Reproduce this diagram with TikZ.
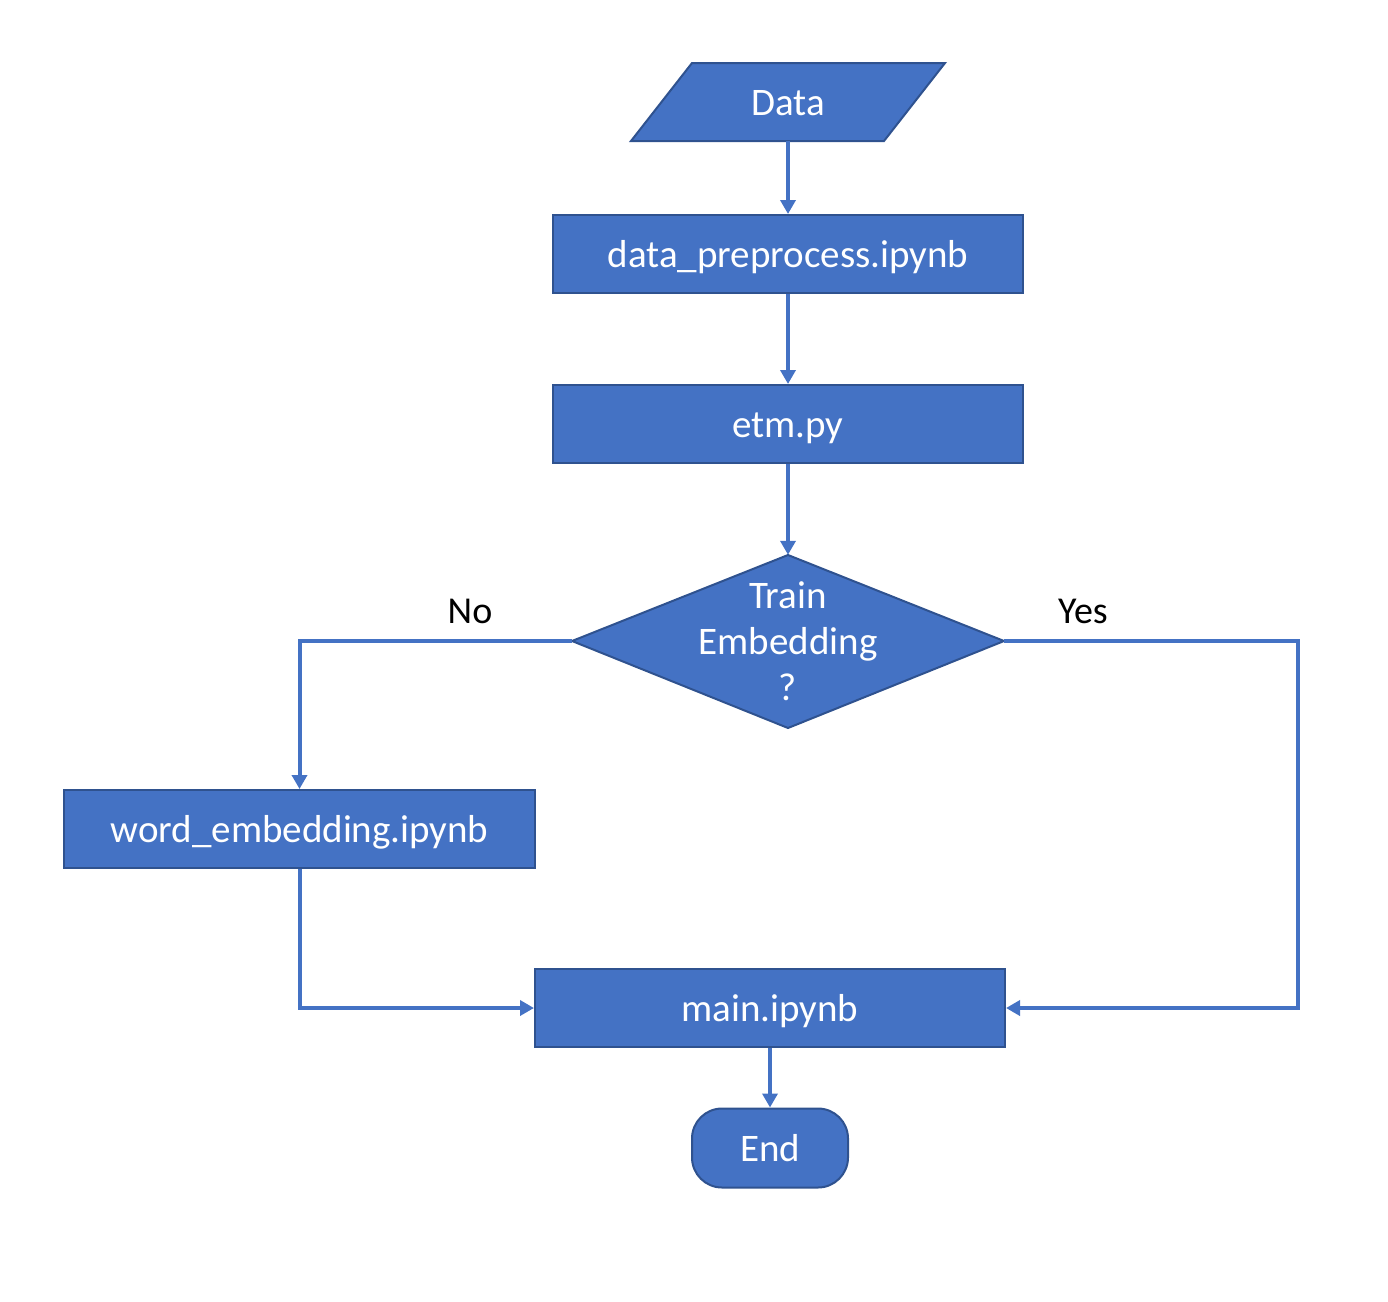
\documentclass[tikz,border=0pt]{standalone}
\usepackage{fontspec}
\setmainfont{Carlito}
\usetikzlibrary{arrows.meta}
\definecolor{fillblue}{HTML}{4472C4}
\definecolor{edgeblue}{HTML}{2F528F}
\tikzset{
  shapefill/.style={fill=fillblue, draw=edgeblue, line width=2pt, line join=miter},
  box/.style={shapefill, rectangle, inner sep=0pt, minimum height=78pt, text height=29pt, text depth=2pt, text=white, font=\fontsize{39}{46}\selectfont},
  txt/.style={inner sep=0pt, text=white, font=\fontsize{39}{46}\selectfont, align=center},
  lab/.style={inner sep=0pt, text=black, font=\fontsize{38}{46}\selectfont},
  conn/.style={draw=fillblue, line width=4pt, -{Triangle[length=14pt,width=15pt]}}
}
\begin{document}
\begin{tikzpicture}[x=1pt,y=-1pt]
\useasboundingbox (0,0) rectangle (1388,1301);
% Data (parallelogram)
\draw[shapefill] (692,63) -- (945,63) -- (884,141) -- (631,141) -- cycle;
\node[txt, minimum width=253pt, minimum height=78pt, text height=29pt, text depth=2pt] (data) at (788,102) {Data};
% process boxes
\node[box, minimum width=470pt] (pre) at (788,254) {data\_preprocess.ipynb};
\node[box, minimum width=470pt] (etm) at (788,424) {etm.py};
% decision
\draw[shapefill] (788,555) -- (1004,641) -- (788,728) -- (572,641) -- cycle;
\node[txt, minimum width=432pt, minimum height=172pt] (dec) at (788,641) {Train\\Embedding\\?};
\node[box, minimum width=471pt] (word) at (299.5,829) {word\_embedding.ipynb};
\node[box, minimum width=470pt] (main) at (770,1008) {main.ipynb};
\node[box, minimum width=156pt, minimum height=79pt, rounded corners=30pt] (end) at (770,1148) {End};
% labels
\node[lab] (nolab) at (470,611) {No};
\node[lab] (yeslab) at (1083,611) {Yes};
\coordinate (yc) at (1298,641);
% connectors
\draw[conn] (data.south) -- (pre.north);
\draw[conn] (pre.south) -- (etm.north);
\draw[conn] (etm.south) -- (dec.north);
\draw[conn] (dec.west) -| (word.north);
\draw[conn] (word.south) |- (main.west);
\draw[conn] (dec.east) -- (yc) |- (main.east);
\draw[conn] (main.south) -- (end.north);
\end{tikzpicture}
\end{document}
